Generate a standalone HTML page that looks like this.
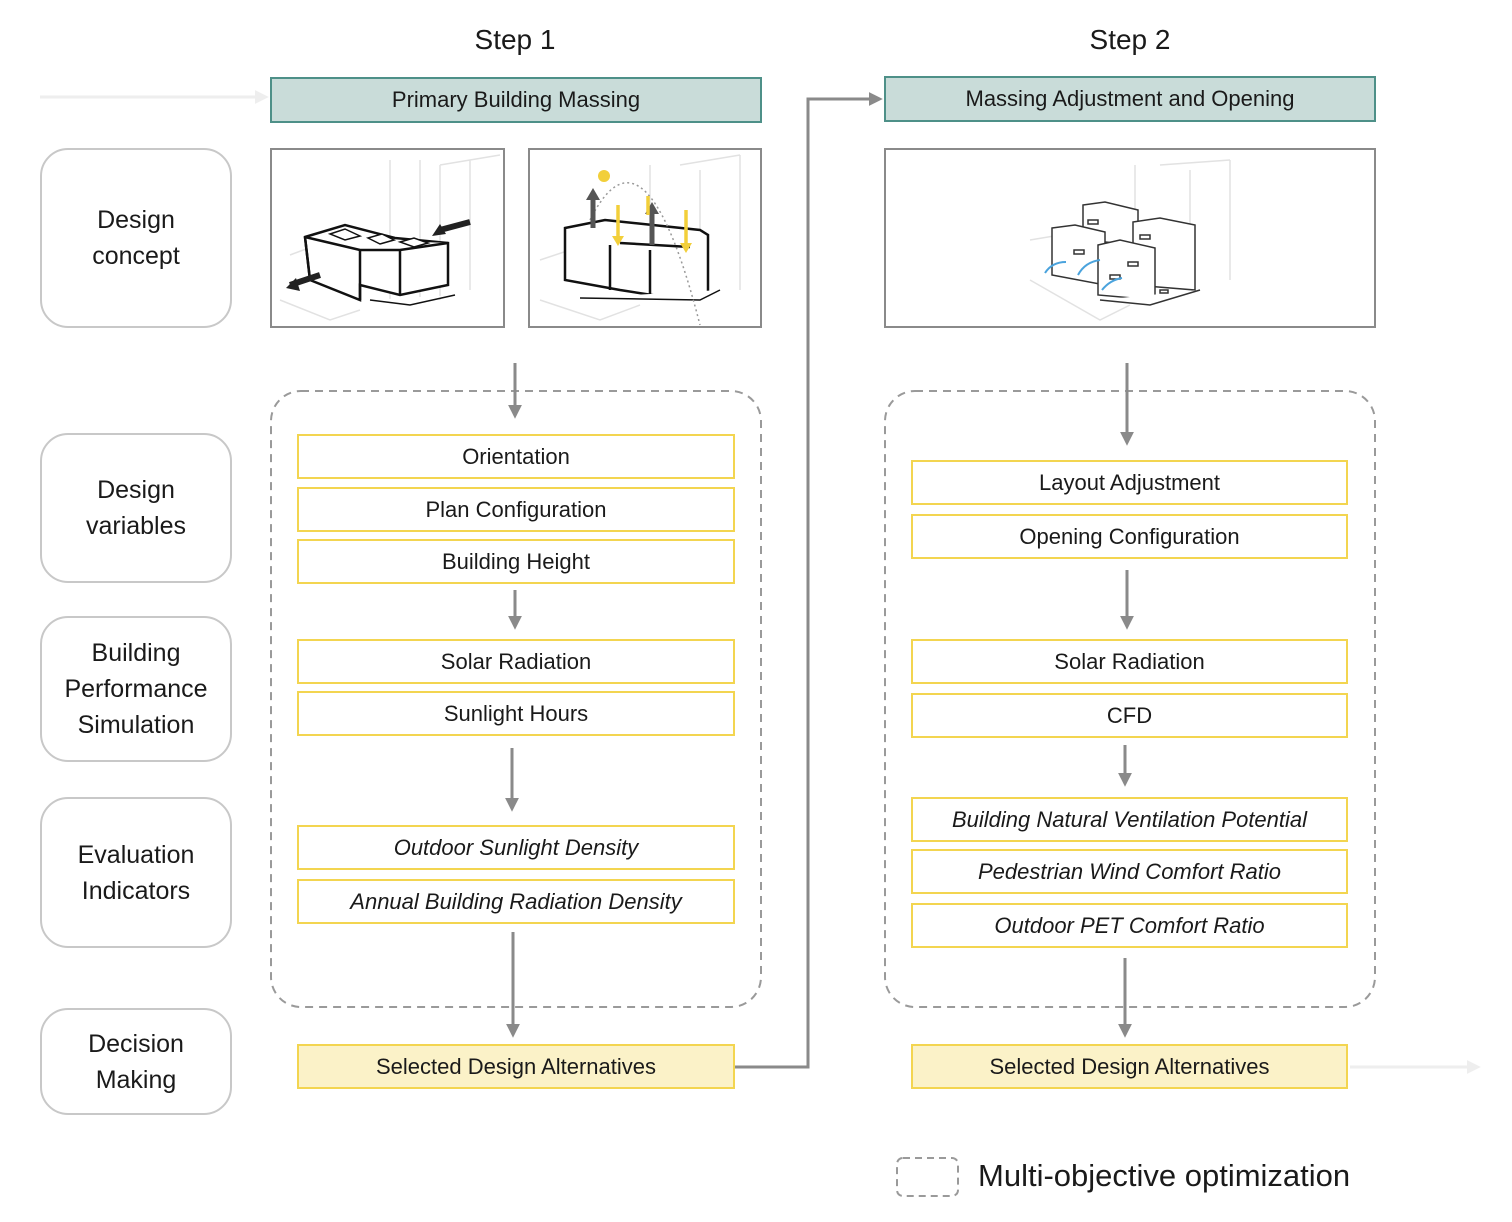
<!DOCTYPE html>
<html><head><meta charset="utf-8"><style>
body{margin:0;width:1512px;height:1222px;background:#fff;position:relative;overflow:hidden;font-family:"Liberation Sans",sans-serif;color:#1a1a1a}
.a{position:absolute;box-sizing:border-box;display:flex;align-items:center;justify-content:center;text-align:center}
.h{background:#c9dcd9;border:2px solid #4e9088;font-size:22px}
.y{border:2px solid #f3d550;font-size:22px;background:#fff}
.i{font-style:italic}
.s{background:#fbf2c8}
.l{border:2px solid #c8c8c8;border-radius:28px;font-size:25px;line-height:36px;background:#fff}
.img{border:2px solid #8a8a8a;background:#fff}
.st{font-size:28px}
</style></head><body>
<svg width="1512" height="1222" style="position:absolute;left:0;top:0">
<defs>
<marker id="g" viewBox="0 0 10 10" markerWidth="14" markerHeight="14" refX="8" refY="5" orient="auto" markerUnits="userSpaceOnUse"><path d="M0,0 L10,5 L0,10z" fill="#8a8a8a"/></marker>
<marker id="lg" viewBox="0 0 10 10" markerWidth="14" markerHeight="14" refX="8" refY="5" orient="auto" markerUnits="userSpaceOnUse"><path d="M0,0 L10,5 L0,10z" fill="#eee"/></marker></defs>
<rect x="271" y="391" width="490" height="616" rx="30" fill="none" stroke="#9a9a9a" stroke-width="2" stroke-dasharray="8,6"/>
<rect x="885" y="391" width="490" height="616" rx="30" fill="none" stroke="#9a9a9a" stroke-width="2" stroke-dasharray="8,6"/>
<rect x="897" y="1158" width="61" height="38" rx="6" fill="none" stroke="#9a9a9a" stroke-width="2" stroke-dasharray="7,5"/>
<line x1="40" y1="97" x2="266" y2="97" stroke="#eee" stroke-width="3" marker-end="url(#lg)"/>
<line x1="1350" y1="1067" x2="1478" y2="1067" stroke="#eee" stroke-width="3" marker-end="url(#lg)"/>
<g stroke="#8a8a8a" stroke-width="3" fill="none">
<line x1="515" y1="363" x2="515" y2="416" marker-end="url(#g)"/>
<line x1="515" y1="590" x2="515" y2="627" marker-end="url(#g)"/>
<line x1="512" y1="748" x2="512" y2="809" marker-end="url(#g)"/>
<line x1="513" y1="932" x2="513" y2="1035" marker-end="url(#g)"/>
<line x1="1127" y1="363" x2="1127" y2="443" marker-end="url(#g)"/>
<line x1="1127" y1="570" x2="1127" y2="627" marker-end="url(#g)"/>
<line x1="1125" y1="745" x2="1125" y2="784" marker-end="url(#g)"/>
<line x1="1125" y1="958" x2="1125" y2="1035" marker-end="url(#g)"/>
<polyline points="735,1067 808,1067 808,99 880,99" marker-end="url(#g)"/>
</g>
<g fill="none" stroke="#e2e2e2" stroke-width="1.5">
<path d="M390 160 V300 M420 160 V300 M440 165 L500 155 M440 165 V300 M470 160 V290 M290 255 L330 240 M280 300 L330 320 L360 310"/>
<path d="M650 165 V300 M680 165 L740 155 M700 170 V290 M740 155 V290 M540 260 L570 250 M540 300 L600 320 L640 305"/>
<path d="M1135 165 V300 M1160 165 L1230 160 M1190 170 V290 M1230 160 V280 M1030 240 L1060 235 M1030 280 L1100 320 L1130 305"/>
</g>
<g fill="#fff" stroke="#111" stroke-width="2.5">
<path d="M305 237 L345 225 L395 238 L448 243 L448 285 L400 295 L360 285 L360 300 L310 280 Z"/>
<path d="M305 237 L310 280 M360 250 L360 300 M400 250 L400 295 M305 237 L360 250 L400 250 L448 243"/>
<path d="M330 234 L345 229 L360 236 L345 240Z M368 238 L382 234 L394 240 L380 244Z M400 242 L414 238 L428 243 L414 247Z" stroke-width="1.5"/>
<path d="M370 300 L410 305 L455 295" stroke-width="1.5"/>
<path d="M565 228 L605 220 L700 230 L708 235 L708 295 L665 297 L620 290 L565 280Z"/>
<path d="M610 245 L610 290 M650 250 L650 297 M620 243 L690 247"/>
<path d="M580 298 L700 300 L720 290" stroke-width="1.5"/>
</g>
<path d="M290 285 L320 275 M440 230 L470 222" stroke="#222" stroke-width="6" />
<path d="M286 288 L296 278 L300 291Z M432 236 L440 224 L446 234Z" fill="#222"/>
<circle cx="604" cy="176" r="6" fill="#f2cf3a"/>
<path d="M590 220 Q645 110 700 325" fill="none" stroke="#999" stroke-width="1.5" stroke-dasharray="2,3"/>
<g stroke="#555" stroke-width="5"><line x1="593" y1="228" x2="593" y2="196"/><line x1="652" y1="245" x2="652" y2="210"/></g>
<path d="M586 200 L593 188 L600 200Z M645 214 L652 202 L659 214Z" fill="#555"/>
<g stroke="#f2cf3a" stroke-width="3.5"><line x1="618" y1="205" x2="618" y2="238"/><line x1="648" y1="196" x2="648" y2="215"/><line x1="686" y1="210" x2="686" y2="245"/></g>
<path d="M612 236 L618 246 L624 236Z M680 243 L686 253 L692 243Z" fill="#f2cf3a"/>
<g fill="#fff" stroke="#333" stroke-width="1.5">
<path d="M1083 205 L1105 202 L1138 210 L1138 245 L1083 240Z"/>
<path d="M1133 222 L1160 218 L1195 225 L1195 290 L1133 285Z"/>
<path d="M1052 228 L1075 225 L1105 232 L1105 285 L1052 275Z"/>
<path d="M1098 245 L1120 240 L1155 248 L1155 300 L1098 295Z"/>
<path d="M1100 300 L1150 305 L1200 290" />
<path d="M1088 220 h10 v4 h-10z M1140 235 h10 v4 h-10z M1074 250 h10 v4 h-10z M1128 262 h10 v4 h-10z M1110 275 h10 v4 h-10z M1160 290 h8 v3 h-8z"/>
</g>
<g fill="none" stroke="#4aa3dd" stroke-width="2"><path d="M1045 273 Q1052 262 1066 262"/><path d="M1078 275 Q1085 262 1100 260"/><path d="M1102 290 Q1110 280 1122 278"/></g>
</svg>
<div class="a st" style="left:415px;top:18px;width:200px;height:44px">Step 1</div>
<div class="a st" style="left:1030px;top:18px;width:200px;height:44px">Step 2</div>
<div class="a h" style="left:270px;top:77px;width:492px;height:46px">Primary Building Massing</div>
<div class="a h" style="left:884px;top:76px;width:492px;height:46px">Massing Adjustment and Opening</div>
<div class="a img" style="left:270px;top:148px;width:235px;height:180px;background:transparent"></div>
<div class="a img" style="left:528px;top:148px;width:234px;height:180px;background:transparent"></div>
<div class="a img" style="left:884px;top:148px;width:492px;height:180px;background:transparent"></div>
<div class="a l" style="left:40px;top:148px;width:192px;height:180px">Design<br>concept</div>
<div class="a l" style="left:40px;top:433px;width:192px;height:150px">Design<br>variables</div>
<div class="a l" style="left:40px;top:616px;width:192px;height:146px">Building<br>Performance<br>Simulation</div>
<div class="a l" style="left:40px;top:797px;width:192px;height:151px">Evaluation<br>Indicators</div>
<div class="a l" style="left:40px;top:1008px;width:192px;height:107px">Decision<br>Making</div>
<div class="a y" style="left:297px;top:434px;width:438px;height:45px">Orientation</div>
<div class="a y" style="left:297px;top:487px;width:438px;height:45px">Plan Configuration</div>
<div class="a y" style="left:297px;top:539px;width:438px;height:45px">Building Height</div>
<div class="a y" style="left:297px;top:639px;width:438px;height:45px">Solar Radiation</div>
<div class="a y" style="left:297px;top:691px;width:438px;height:45px">Sunlight Hours</div>
<div class="a y i" style="left:297px;top:825px;width:438px;height:45px">Outdoor Sunlight Density</div>
<div class="a y i" style="left:297px;top:879px;width:438px;height:45px">Annual Building Radiation Density</div>
<div class="a y s" style="left:297px;top:1044px;width:438px;height:45px">Selected Design Alternatives</div>
<div class="a y" style="left:911px;top:460px;width:437px;height:45px">Layout Adjustment</div>
<div class="a y" style="left:911px;top:514px;width:437px;height:45px">Opening Configuration</div>
<div class="a y" style="left:911px;top:639px;width:437px;height:45px">Solar Radiation</div>
<div class="a y" style="left:911px;top:693px;width:437px;height:45px">CFD</div>
<div class="a y i" style="left:911px;top:797px;width:437px;height:45px">Building Natural Ventilation Potential</div>
<div class="a y i" style="left:911px;top:849px;width:437px;height:45px">Pedestrian Wind Comfort Ratio</div>
<div class="a y i" style="left:911px;top:903px;width:437px;height:45px">Outdoor PET Comfort Ratio</div>
<div class="a y s" style="left:911px;top:1044px;width:437px;height:45px">Selected Design Alternatives</div>
<div style="position:absolute;left:978px;top:1157px;font-size:31px;line-height:38px">Multi-objective optimization</div>
</body></html>
